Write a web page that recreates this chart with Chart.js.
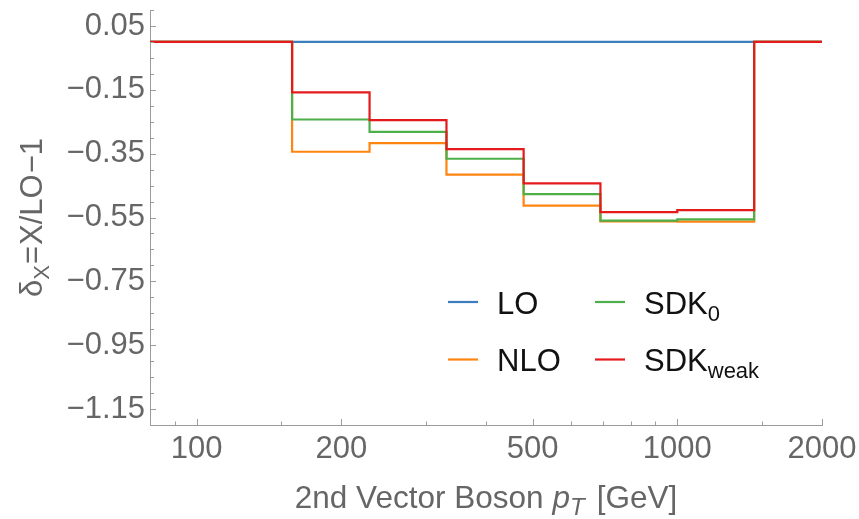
<!DOCTYPE html>
<html>
<head>
<meta charset="utf-8">
<script src="https://cdn.jsdelivr.net/npm/chart.js@4.4.1/dist/chart.umd.min.js"></script>
<style>
  html, body { margin: 0; padding: 0; background: #fff; }
  #wrap { width: 859px; height: 519px; }
</style>
</head>
<body>
<div id="wrap"><canvas id="deltaChart"></canvas></div>
<script>
// bin edges of 2nd vector boson pT [GeV]
const binEdges = [80, 158, 229, 331, 479, 692, 1000, 1445, 2000];
// delta_X = X/LO - 1, one value per bin
const deltaLO      = [0, 0, 0, 0, 0, 0, 0, 0];
const deltaNLO     = [0, -0.344, -0.317, -0.416, -0.513, -0.562, -0.563, 0];
const deltaSDK0    = [0, -0.243, -0.282, -0.366, -0.477, -0.560, -0.556, 0];
const deltaSDKweak = [0, -0.158, -0.245, -0.336, -0.443, -0.533, -0.527, 0];

// axis ticks
const xMajorTicks = [100, 200, 500, 1000, 2000];
const xMinorTicks = [90, 150, 300, 400, 600, 700, 800, 900, 1500];
const yMajorTicks = [0.05, -0.15, -0.35, -0.55, -0.75, -0.95, -1.15];

const FONT = "'Liberation Sans', Arial, sans-serif";
const FONT_SIZE = 31;
const AXIS_GREY = '#9b9b9b';
const TEXT_GREY = '#666666';

const series = [
  { name: 'LO',  sub: '',     values: deltaLO,      color: '#3b7dbd', order: 4 },
  { name: 'NLO', sub: '',     values: deltaNLO,     color: '#ff8410', order: 3 },
  { name: 'SDK', sub: '0',    values: deltaSDK0,    color: '#4daf4a', order: 2 },
  { name: 'SDK', sub: 'weak', values: deltaSDKweak, color: '#e41a1c', order: 1 }
];

function stepPoints(vals) {
  const pts = vals.map((v, i) => ({ x: binEdges[i], y: v }));
  pts.push({ x: binEdges[binEdges.length - 1], y: vals[vals.length - 1] });
  return pts;
}

function isYMajor(v) {
  return yMajorTicks.some(t => Math.abs(t - v) < 1e-6);
}

// text pieces {t, f, dy, gap}
function measureParts(ctx, parts) {
  let w = 0;
  parts.forEach(p => { ctx.font = p.f; w += (p.gap || 0) + ctx.measureText(p.t).width; });
  return w;
}
function drawParts(ctx, parts, x, y) {
  parts.forEach(p => {
    ctx.font = p.f;
    x += p.gap || 0;
    ctx.fillText(p.t, x, y + (p.dy || 0));
    x += ctx.measureText(p.t).width;
  });
}

const decorations = {
  id: 'decorations',
  afterDraw(chart) {
    const { ctx, chartArea: a, scales: { x, y } } = chart;
    const big = FONT_SIZE + 'px ' + FONT;
    const small = Math.round(FONT_SIZE * 0.7) + 'px ' + FONT;
    ctx.save();

    // inward tick marks
    ctx.strokeStyle = AXIS_GREY;
    ctx.lineWidth = 1;
    ctx.beginPath();
    x.ticks.forEach(t => {
      const px = Math.round(x.getPixelForValue(t.value)) + 0.5;
      const len = xMajorTicks.includes(t.value) ? 6 : 3.5;
      ctx.moveTo(px, a.bottom);
      ctx.lineTo(px, a.bottom - len);
    });
    y.ticks.forEach(t => {
      const py = Math.round(y.getPixelForValue(t.value)) + 0.5;
      const len = isYMajor(t.value) ? 6 : 4;
      ctx.moveTo(a.left, py);
      ctx.lineTo(a.left + len, py);
    });
    ctx.stroke();

    // legend, two columns
    ctx.textBaseline = 'alphabetic';
    ctx.textAlign = 'left';
    const cols = [a.left + 298, a.left + 445];
    const rows = [a.top + 292, a.top + 349.5];
    const slots = [[0, 0], [1, 0], [0, 1], [1, 1]]; // LO, NLO, SDK0, SDKweak -> [row, col]
    series.forEach((s, i) => {
      const [r, c] = slots[i];
      const lx = cols[c], ly = rows[r];
      ctx.strokeStyle = s.color;
      ctx.lineWidth = 2.2;
      ctx.beginPath();
      ctx.moveTo(lx, ly);
      ctx.lineTo(lx + 30, ly);
      ctx.stroke();
      ctx.fillStyle = '#111';
      const parts = [{ t: s.name, f: big }];
      if (s.sub) parts.push({ t: s.sub, f: small, dy: 7 });
      drawParts(ctx, parts, lx + 49, ly + 11.5);
    });

    // axis titles
    ctx.fillStyle = TEXT_GREY;
    const xparts = [
      { t: '2nd Vector Boson', f: '31.5px ' + FONT },
      { t: 'p', f: 'italic 31.5px ' + FONT, gap: 9 },
      { t: 'T', f: 'italic 24px ' + FONT, dy: 7, gap: 0 },
      { t: '[GeV]', f: '31.5px ' + FONT, gap: 12 }
    ];
    const wx = measureParts(ctx, xparts);
    drawParts(ctx, xparts, (a.left + a.right) / 2 - wx / 2, a.bottom + 82.5);

    const yparts = [
      { t: '\u03b4', f: big },
      { t: 'X', f: small, dy: 7 },
      { t: '=', f: big, gap: 1 },
      { t: 'X/LO', f: big, gap: 1 },
      { t: '\u22121', f: big, gap: 1 }
    ];
    const wy = measureParts(ctx, yparts);
    ctx.translate(41.5, (a.top + a.bottom) / 2);
    ctx.rotate(-Math.PI / 2);
    drawParts(ctx, yparts, -wy / 2, 0);

    ctx.restore();
  }
};

const ctx = document.getElementById('deltaChart').getContext('2d');
new Chart(ctx, {
  type: 'line',
  data: {
    datasets: series.map(s => ({
      label: s.name + s.sub,
      data: stepPoints(s.values),
      borderColor: s.color,
      backgroundColor: s.color,
      borderWidth: 2.2,
      pointRadius: 0,
      stepped: 'before',
      fill: false,
      order: s.order
    }))
  },
  options: {
    responsive: true,
    maintainAspectRatio: false,
    animation: false,
    layout: { padding: { top: 10, right: 37, left: 0, bottom: 0 } },
    plugins: {
      legend: { display: false },
      tooltip: { enabled: false }
    },
    scales: {
      x: {
        type: 'logarithmic',
        min: 80,
        max: 2000,
        grid: { display: false, drawTicks: false },
        border: { display: true, color: AXIS_GREY, width: 1 },
        afterBuildTicks(scale) {
          scale.ticks = [...xMajorTicks, ...xMinorTicks].sort((p, q) => p - q).map(v => ({ value: v }));
        },
        afterFit(scale) {
          scale.height = 94;
          scale.paddingLeft = 0;
          scale.paddingRight = 0;
        },
        ticks: {
          autoSkip: false,
          maxRotation: 0,
          padding: 6,
          color: TEXT_GREY,
          font: { family: FONT, size: FONT_SIZE },
          callback: v => (xMajorTicks.includes(v) ? String(v) : '')
        }
      },
      y: {
        type: 'linear',
        min: -1.2,
        max: 0.1,
        grid: { display: false, drawTicks: false },
        border: { display: true, color: AXIS_GREY, width: 1 },
        afterFit(scale) {
          scale.width = 150;
          scale.paddingTop = 0;
          scale.paddingBottom = 0;
        },
        ticks: {
          stepSize: 0.05,
          autoSkip: false,
          padding: 5,
          color: TEXT_GREY,
          font: { family: FONT, size: FONT_SIZE },
          callback: v => (isYMajor(v) ? v.toFixed(2).replace('-', '\u2212') : '')
        }
      }
    }
  },
  plugins: [decorations]
});
</script>
</body>
</html>
